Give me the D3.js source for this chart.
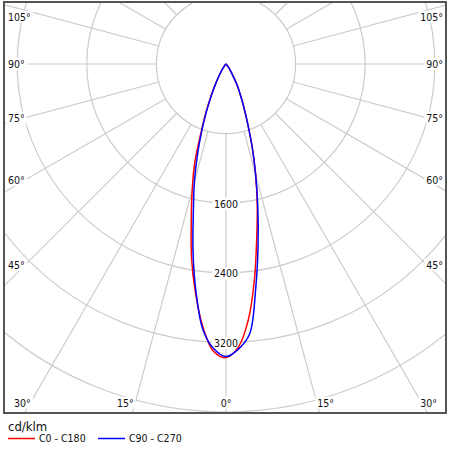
<!DOCTYPE html>
<html>
<head>
<meta charset="utf-8">
<script src="https://cdn.jsdelivr.net/npm/d3@7"></script>
<style>
  body { margin: 0; background: #fff; }
  svg { display: block; font-family: "DejaVu Sans Condensed", "DejaVu Sans", sans-serif; }
</style>
</head>
<body>
<div id="chart"></div>
<script>
// gamma angles (deg from nadir) and intensities in cd/klm
var gammas = [0, 2.5, 5, 7.5, 10, 12.5, 15, 17.5, 20, 22.5, 25, 27.5, 30, 35, 40, 45, 50, 55, 60, 65, 70, 75, 80, 85, 90];
var c0   = [3375, 3257, 2950, 2501, 2033, 1660, 1316, 1000, 726, 532, 390, 288, 180, 75, 28, 11, 5, 3, 2, 1, 1, 0, 0, 0, 0];
var c180 = [3375, 3304, 3038, 2668, 2277, 1844, 1502, 1200, 840, 600, 410, 275, 170, 72, 27, 11, 5, 3, 2, 1, 1, 0, 0, 0, 0];
var c90  = [3363, 3280, 3115, 2611, 2122, 1690, 1316, 1000, 726, 532, 390, 288, 180, 75, 28, 11, 5, 3, 2, 1, 1, 0, 0, 0, 0];
var c270 = [3363, 3274, 3060, 2642, 2184, 1732, 1404, 1088, 809, 579, 395, 261, 165, 70, 26, 10, 5, 3, 2, 1, 1, 0, 0, 0, 0];

var rings = [800, 1600, 2400, 3200, 4000];
var ringLabels = [1600, 2400, 3200];
var angleTicks = [0, 15, 30, 45, 60, 75, 90, 105];
var series = [
  {name: "C0 - C180", color: "#ff0000", right: c0, left: c180},
  {name: "C90 - C270", color: "#0000ff", right: c90, left: c270}
];

var width = 453, height = 450;
var cx = 226, cy = 64;
var fx = 4, fy = 2, fw = 442, fh = 411;

var r = d3.scaleLinear().domain([0, 4000]).range([0, 348]);
var rad = d => d * Math.PI / 180;

var svg = d3.select("#chart").append("svg")
    .attr("width", width)
    .attr("height", height);

svg.append("clipPath").attr("id", "frame-clip")
  .append("rect")
    .attr("x", fx + 1).attr("y", fy + 1)
    .attr("width", fw - 2).attr("height", fh - 2);

var grid = svg.append("g").attr("clip-path", "url(#frame-clip)");

grid.selectAll("circle")
  .data(rings)
  .join("circle")
    .attr("cx", cx).attr("cy", cy)
    .attr("r", d => r(d))
    .attr("fill", "none")
    .attr("stroke", "#cccccc")
    .attr("stroke-width", 1.2);

// spokes every 15 degrees, starting at the first ring
var spokes = d3.range(0, 360, 15);
grid.selectAll("line")
  .data(spokes)
  .join("line")
    .attr("x1", d => cx + r(rings[0]) * Math.sin(rad(d)))
    .attr("y1", d => cy + r(rings[0]) * Math.cos(rad(d)))
    .attr("x2", d => cx + 700 * Math.sin(rad(d)))
    .attr("y2", d => cy + 700 * Math.cos(rad(d)))
    .attr("stroke", "#cccccc")
    .attr("stroke-width", 1.2);

// label with a white box behind it
function boxedText(g, x, y, txt, anchor) {
  var t = g.append("text")
      .attr("x", x).attr("y", y)
      .attr("dy", "0.35em")
      .attr("text-anchor", anchor)
      .attr("font-size", 10.5)
      .attr("fill", "#111")
      .text(txt);
  var b = t.node().getBBox();
  g.insert("rect", "text")
      .attr("x", b.x - 2).attr("y", b.y)
      .attr("width", b.width + 4).attr("height", b.height)
      .attr("fill", "#fff");
}

var labels = svg.append("g");

angleTicks.forEach(function(a) {
  var g = labels.append("g");
  if (a <= 30) {
    var yb = 397;
    var xs = (yb - cy) * Math.tan(rad(a));
    if (a === 0) {
      boxedText(g, cx, 403, a + "°", "middle");
    } else {
      boxedText(labels.append("g"), cx - xs - 3, 403, a + "°", "end");
      boxedText(g, cx + xs + 2, 403, a + "°", "start");
    }
  } else {
    var ys = cy + (cx - 25) / Math.tan(rad(a));
    ys = Math.max(ys, 17);
    boxedText(g, 8, ys, a + "°", "start");
    boxedText(labels.append("g"), 443, ys, a + "°", "end");
  }
});

ringLabels.forEach(function(v) {
  boxedText(labels.append("g"), cx, cy + r(v) + 1, v, "middle");
});

// photometric curves
var radial = d3.lineRadial()
    .angle(d => d.a)
    .radius(d => r(d.v))
    .curve(d3.curveCatmullRom.alpha(0.5));

series.forEach(function(s) {
  var pts = [];
  for (var i = gammas.length - 1; i >= 0; i--) pts.push({a: Math.PI + rad(gammas[i]), v: s.left[i]});
  for (var j = 1; j < gammas.length; j++) pts.push({a: Math.PI - rad(gammas[j]), v: s.right[j]});
  svg.append("path")
      .attr("transform", "translate(" + cx + "," + cy + ")")
      .attr("d", radial(pts))
      .attr("fill", "none")
      .attr("stroke", s.color)
      .attr("stroke-width", 1.5)
      .attr("stroke-linejoin", "round");
});

svg.append("rect")
    .attr("x", fx).attr("y", fy)
    .attr("width", fw).attr("height", fh)
    .attr("fill", "none")
    .attr("stroke", "#555")
    .attr("stroke-width", 2);

// legend
svg.append("text")
    .attr("x", 8).attr("y", 431)
    .attr("font-size", 13)
    .attr("fill", "#111")
    .text("cd/klm");

var legX = [8, 98];
var leg = svg.selectAll(".leg")
  .data(series)
  .join("g")
    .attr("class", "leg")
    .attr("transform", (d, i) => "translate(" + legX[i] + ",438.5)");
leg.append("line")
    .attr("x1", 0).attr("x2", 27)
    .attr("stroke", d => d.color)
    .attr("stroke-width", 1.5);
leg.append("text")
    .attr("x", 31).attr("dy", "0.35em")
    .attr("font-size", 10.5)
    .attr("fill", "#111")
    .text(d => d.name);
</script>
</body>
</html>
